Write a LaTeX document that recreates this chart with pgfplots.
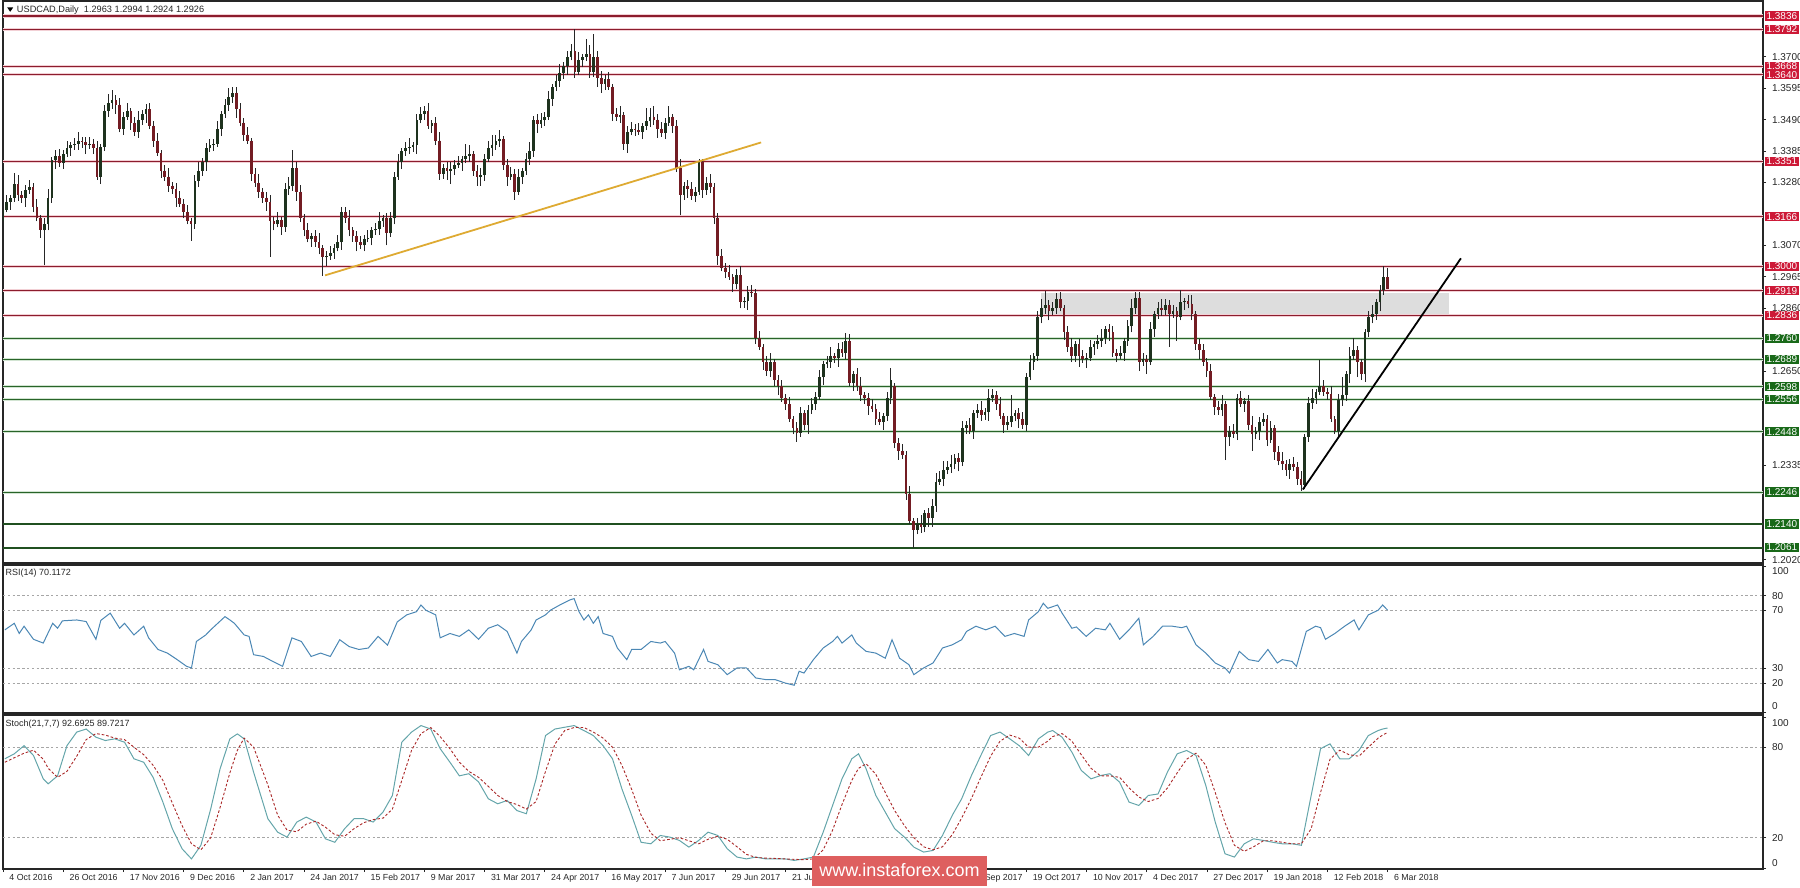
\documentclass[border=0pt]{standalone}
\usepackage{pgfplots}
\usepackage{pgfplotstable}
\pgfplotsset{compat=1.18}
\usepackage{fontspec}
\setmainfont{Liberation Sans}
\newcommand\fs[1]{\fontsize{#1}{#1}\selectfont}
\definecolor{lvlred}{RGB}{140,28,45}
\definecolor{lvlpink}{RGB}{242,208,213}
\definecolor{boxred}{RGB}{205,25,55}
\definecolor{lvlgreen}{RGB}{40,100,40}
\definecolor{lvlgreenhalo}{RGB}{210,228,210}
\definecolor{boxgreen}{RGB}{25,105,25}
\definecolor{bullc}{RGB}{30,50,30}
\definecolor{bearc}{RGB}{115,28,35}
\definecolor{gold}{RGB}{222,170,50}
\definecolor{rectgray}{RGB}{221,221,221}
\definecolor{rsiblue}{RGB}{75,135,180}
\definecolor{stochmain}{RGB}{100,165,170}
\definecolor{stochsig}{RGB}{170,40,40}
\definecolor{wm}{RGB}{222,95,95}

\pgfplotstableread{
i o h l c
0 1.3150 1.3205 1.3130 1.3190
1 1.3190 1.3240 1.3180 1.3215
2 1.3215 1.3240 1.3190 1.3230
3 1.3230 1.3313 1.3215 1.3275
4 1.3275 1.3305 1.3220 1.3240
5 1.3240 1.3252 1.3212 1.3230
6 1.3230 1.3273 1.3200 1.3255
7 1.3255 1.3287 1.3243 1.3265
8 1.3265 1.3280 1.3180 1.3200
9 1.3200 1.3225 1.3150 1.3160
10 1.3160 1.3170 1.3095 1.3120
11 1.3120 1.3160 1.3003 1.3140
12 1.3140 1.3260 1.3120 1.3230
13 1.3230 1.3367 1.3212 1.3355
14 1.3355 1.3388 1.3325 1.3370
15 1.3370 1.3392 1.3333 1.3345
16 1.3345 1.3390 1.3325 1.3375
17 1.3375 1.3420 1.3365 1.3395
18 1.3395 1.3415 1.3370 1.3405
19 1.3405 1.3430 1.3390 1.3410
20 1.3410 1.3450 1.3390 1.3420
21 1.3420 1.3432 1.3397 1.3415
22 1.3415 1.3433 1.3375 1.3405
23 1.3405 1.3432 1.3393 1.3410
24 1.3410 1.3425 1.3375 1.3395
25 1.3395 1.3420 1.3290 1.3300
26 1.3300 1.3410 1.3275 1.3400
27 1.3400 1.3540 1.3385 1.3520
28 1.3520 1.3575 1.3500 1.3545
29 1.3545 1.3588 1.3527 1.3555
30 1.3555 1.3573 1.3510 1.3540
31 1.3540 1.3562 1.3448 1.3460
32 1.3460 1.3515 1.3440 1.3500
33 1.3500 1.3545 1.3490 1.3520
34 1.3520 1.3530 1.3455 1.3480
35 1.3480 1.3500 1.3435 1.3450
36 1.3450 1.3520 1.3430 1.3490
37 1.3490 1.3522 1.3472 1.3510
38 1.3510 1.3543 1.3480 1.3525
39 1.3525 1.3547 1.3458 1.3470
40 1.3470 1.3485 1.3400 1.3420
41 1.3420 1.3445 1.3370 1.3380
42 1.3380 1.3390 1.3295 1.3320
43 1.3320 1.3340 1.3285 1.3300
44 1.3300 1.3330 1.3250 1.3270
45 1.3270 1.3282 1.3242 1.3260
46 1.3260 1.3278 1.3200 1.3230
47 1.3230 1.3252 1.3198 1.3210
48 1.3210 1.3225 1.3160 1.3180
49 1.3180 1.3205 1.3140 1.3150
50 1.3150 1.3160 1.3085 1.3140
51 1.3140 1.3305 1.3125 1.3285
52 1.3285 1.3350 1.3265 1.3320
53 1.3320 1.3362 1.3302 1.3350
54 1.3350 1.3413 1.3320 1.3395
55 1.3395 1.3427 1.3383 1.3405
56 1.3405 1.3425 1.3385 1.3410
57 1.3410 1.3485 1.3400 1.3460
58 1.3460 1.3520 1.3435 1.3510
59 1.3510 1.3560 1.3495 1.3540
60 1.3540 1.3595 1.3520 1.3565
61 1.3565 1.3598 1.3547 1.3580
62 1.3580 1.3598 1.3495 1.3525
63 1.3525 1.3547 1.3468 1.3480
64 1.3480 1.3495 1.3420 1.3440
65 1.3440 1.3465 1.3410 1.3420
66 1.3420 1.3430 1.3285 1.3310
67 1.3310 1.3330 1.3265 1.3280
68 1.3280 1.3310 1.3230 1.3250
69 1.3250 1.3262 1.3212 1.3230
70 1.3230 1.3248 1.3185 1.3215
71 1.3215 1.3237 1.3033 1.3150
72 1.3150 1.3165 1.3120 1.3140
73 1.3140 1.3180 1.3130 1.3155
74 1.3155 1.3165 1.3105 1.3130
75 1.3130 1.3280 1.3115 1.3260
76 1.3260 1.3300 1.3240 1.3270
77 1.3270 1.3390 1.3252 1.3330
78 1.3330 1.3348 1.3220 1.3250
79 1.3250 1.3272 1.3148 1.3160
80 1.3160 1.3175 1.3100 1.3120
81 1.3120 1.3145 1.3080 1.3090
82 1.3090 1.3110 1.3065 1.3100
83 1.3100 1.3120 1.3065 1.3080
84 1.3080 1.3110 1.3040 1.3060
85 1.3060 1.3072 1.2969 1.3030
86 1.3030 1.3053 1.3000 1.3035
87 1.3035 1.3067 1.3023 1.3045
88 1.3045 1.3075 1.3025 1.3060
89 1.3060 1.3105 1.3050 1.3080
90 1.3080 1.3200 1.3055 1.3180
91 1.3180 1.3200 1.3145 1.3160
92 1.3160 1.3190 1.3100 1.3120
93 1.3120 1.3132 1.3082 1.3100
94 1.3100 1.3118 1.3050 1.3080
95 1.3080 1.3102 1.3058 1.3070
96 1.3070 1.3105 1.3050 1.3090
97 1.3090 1.3120 1.3080 1.3095
98 1.3095 1.3130 1.3070 1.3120
99 1.3120 1.3145 1.3105 1.3125
100 1.3125 1.3180 1.3105 1.3150
101 1.3150 1.3172 1.3132 1.3160
102 1.3160 1.3178 1.3070 1.3110
103 1.3110 1.3182 1.3098 1.3160
104 1.3160 1.3315 1.3140 1.3300
105 1.3300 1.3375 1.3290 1.3350
106 1.3350 1.3395 1.3325 1.3385
107 1.3385 1.3415 1.3370 1.3395
108 1.3395 1.3430 1.3375 1.3400
109 1.3400 1.3417 1.3382 1.3405
110 1.3405 1.3508 1.3375 1.3490
111 1.3490 1.3532 1.3478 1.3510
112 1.3510 1.3535 1.3490 1.3520
113 1.3520 1.3545 1.3460 1.3470
114 1.3470 1.3490 1.3445 1.3480
115 1.3480 1.3500 1.3405 1.3420
116 1.3420 1.3450 1.3290 1.3310
117 1.3310 1.3342 1.3292 1.3330
118 1.3330 1.3348 1.3290 1.3320
119 1.3320 1.3347 1.3275 1.3325
120 1.3325 1.3355 1.3305 1.3340
121 1.3340 1.3370 1.3330 1.3345
122 1.3345 1.3370 1.3320 1.3360
123 1.3360 1.3410 1.3345 1.3370
124 1.3370 1.3405 1.3350 1.3375
125 1.3375 1.3387 1.3302 1.3320
126 1.3320 1.3338 1.3270 1.3300
127 1.3300 1.3327 1.3270 1.3305
128 1.3305 1.3375 1.3285 1.3360
129 1.3360 1.3420 1.3350 1.3395
130 1.3395 1.3440 1.3370 1.3405
131 1.3405 1.3440 1.3390 1.3420
132 1.3420 1.3455 1.3400 1.3425
133 1.3425 1.3437 1.3322 1.3340
134 1.3340 1.3358 1.3270 1.3300
135 1.3300 1.3332 1.3288 1.3310
136 1.3310 1.3325 1.3223 1.3250
137 1.3250 1.3325 1.3240 1.3300
138 1.3300 1.3330 1.3275 1.3320
139 1.3320 1.3380 1.3305 1.3360
140 1.3360 1.3415 1.3340 1.3385
141 1.3385 1.3502 1.3367 1.3490
142 1.3490 1.3508 1.3445 1.3475
143 1.3475 1.3512 1.3463 1.3490
144 1.3490 1.3515 1.3470 1.3500
145 1.3500 1.3585 1.3490 1.3560
146 1.3560 1.3610 1.3535 1.3600
147 1.3600 1.3640 1.3585 1.3620
148 1.3620 1.3675 1.3600 1.3645
149 1.3645 1.3682 1.3627 1.3670
150 1.3670 1.3718 1.3640 1.3700
151 1.3700 1.3742 1.3688 1.3720
152 1.3720 1.3793 1.3630 1.3650
153 1.3650 1.3715 1.3640 1.3690
154 1.3690 1.3710 1.3665 1.3700
155 1.3700 1.3760 1.3685 1.3710
156 1.3710 1.3740 1.3630 1.3650
157 1.3650 1.3775 1.3632 1.3700
158 1.3700 1.3718 1.3600 1.3630
159 1.3630 1.3652 1.3580 1.3610
160 1.3610 1.3640 1.3590 1.3625
161 1.3625 1.3650 1.3590 1.3600
162 1.3600 1.3610 1.3485 1.3510
163 1.3510 1.3530 1.3485 1.3500
164 1.3500 1.3535 1.3480 1.3505
165 1.3505 1.3517 1.3390 1.3410
166 1.3410 1.3468 1.3380 1.3450
167 1.3450 1.3482 1.3438 1.3460
168 1.3460 1.3475 1.3435 1.3455
169 1.3455 1.3480 1.3440 1.3450
170 1.3450 1.3480 1.3425 1.3470
171 1.3470 1.3530 1.3455 1.3485
172 1.3485 1.3530 1.3465 1.3500
173 1.3500 1.3535 1.3472 1.3490
174 1.3490 1.3508 1.3430 1.3460
175 1.3460 1.3482 1.3433 1.3445
176 1.3445 1.3495 1.3425 1.3480
177 1.3480 1.3535 1.3470 1.3500
178 1.3500 1.3510 1.3445 1.3470
179 1.3470 1.3490 1.3315 1.3330
180 1.3330 1.3360 1.3170 1.3240
181 1.3240 1.3282 1.3222 1.3270
182 1.3270 1.3288 1.3230 1.3260
183 1.3260 1.3282 1.3223 1.3235
184 1.3235 1.3265 1.3215 1.3250
185 1.3250 1.3360 1.3240 1.3350
186 1.3350 1.3360 1.3230 1.3255
187 1.3255 1.3300 1.3240 1.3280
188 1.3280 1.3310 1.3245 1.3265
189 1.3265 1.3277 1.3142 1.3160
190 1.3160 1.3178 1.3005 1.3035
191 1.3035 1.3057 1.2983 1.2995
192 1.2995 1.3010 1.2960 1.2980
193 1.2980 1.3005 1.2955 1.2965
194 1.2965 1.2975 1.2915 1.2940
195 1.2940 1.2990 1.2925 1.2970
196 1.2970 1.3000 1.2860 1.2880
197 1.2880 1.2897 1.2862 1.2885
198 1.2885 1.2933 1.2855 1.2915
199 1.2915 1.2937 1.2898 1.2910
200 1.2910 1.2925 1.2740 1.2760
201 1.2760 1.2785 1.2720 1.2730
202 1.2730 1.2740 1.2655 1.2680
203 1.2680 1.2700 1.2635 1.2650
204 1.2650 1.2710 1.2630 1.2680
205 1.2680 1.2692 1.2602 1.2620
206 1.2620 1.2638 1.2570 1.2600
207 1.2600 1.2622 1.2548 1.2560
208 1.2560 1.2575 1.2520 1.2540
209 1.2540 1.2565 1.2480 1.2490
210 1.2490 1.2500 1.2440 1.2460
211 1.2460 1.2480 1.2415 1.2445
212 1.2445 1.2530 1.2430 1.2510
213 1.2510 1.2522 1.2452 1.2470
214 1.2470 1.2538 1.2440 1.2520
215 1.2520 1.2562 1.2508 1.2540
216 1.2540 1.2580 1.2520 1.2565
217 1.2565 1.2655 1.2555 1.2630
218 1.2630 1.2685 1.2605 1.2675
219 1.2675 1.2700 1.2660 1.2680
220 1.2680 1.2730 1.2660 1.2700
221 1.2700 1.2712 1.2677 1.2695
222 1.2695 1.2743 1.2665 1.2725
223 1.2725 1.2747 1.2698 1.2710
224 1.2710 1.2778 1.2690 1.2750
225 1.2750 1.2775 1.2600 1.2610
226 1.2610 1.2650 1.2585 1.2640
227 1.2640 1.2660 1.2585 1.2600
228 1.2600 1.2630 1.2550 1.2570
229 1.2570 1.2582 1.2542 1.2560
230 1.2560 1.2578 1.2505 1.2535
231 1.2535 1.2557 1.2513 1.2525
232 1.2525 1.2540 1.2470 1.2490
233 1.2490 1.2515 1.2470 1.2480
234 1.2480 1.2510 1.2455 1.2500
235 1.2500 1.2580 1.2485 1.2560
236 1.2560 1.2660 1.2540 1.2620
237 1.2600 1.2612 1.2392 1.2410
238 1.2410 1.2428 1.2355 1.2385
239 1.2385 1.2407 1.2358 1.2370
240 1.2370 1.2385 1.2220 1.2240
241 1.2240 1.2265 1.2140 1.2150
242 1.2150 1.2160 1.2061 1.2120
243 1.2120 1.2160 1.2105 1.2140
244 1.2140 1.2170 1.2110 1.2130
245 1.2130 1.2187 1.2112 1.2175
246 1.2175 1.2193 1.2130 1.2160
247 1.2160 1.2222 1.2130 1.2200
248 1.2200 1.2310 1.2180 1.2280
249 1.2280 1.2315 1.2270 1.2290
250 1.2290 1.2350 1.2265 1.2320
251 1.2320 1.2350 1.2305 1.2330
252 1.2330 1.2370 1.2310 1.2340
253 1.2340 1.2372 1.2322 1.2360
254 1.2360 1.2378 1.2315 1.2345
255 1.2345 1.2482 1.2333 1.2460
256 1.2460 1.2485 1.2440 1.2470
257 1.2470 1.2495 1.2440 1.2450
258 1.2450 1.2520 1.2425 1.2510
259 1.2510 1.2540 1.2495 1.2520
260 1.2520 1.2550 1.2485 1.2505
261 1.2505 1.2527 1.2487 1.2515
262 1.2515 1.2590 1.2485 1.2560
263 1.2560 1.2592 1.2548 1.2570
264 1.2570 1.2585 1.2520 1.2540
265 1.2540 1.2565 1.2490 1.2500
266 1.2500 1.2510 1.2445 1.2470
267 1.2470 1.2500 1.2455 1.2480
268 1.2480 1.2570 1.2462 1.2500
269 1.2500 1.2522 1.2482 1.2510
270 1.2510 1.2528 1.2460 1.2490
271 1.2490 1.2512 1.2458 1.2470
272 1.2470 1.2645 1.2450 1.2630
273 1.2630 1.2705 1.2620 1.2680
274 1.2680 1.2710 1.2655 1.2700
275 1.2700 1.2850 1.2685 1.2830
276 1.2830 1.2890 1.2810 1.2860
277 1.2860 1.2918 1.2842 1.2870
278 1.2870 1.2888 1.2820 1.2850
279 1.2850 1.2882 1.2838 1.2860
280 1.2860 1.2910 1.2840 1.2890
281 1.2890 1.2915 1.2850 1.2860
282 1.2860 1.2870 1.2755 1.2780
283 1.2780 1.2800 1.2715 1.2730
284 1.2730 1.2760 1.2680 1.2700
285 1.2700 1.2752 1.2682 1.2740
286 1.2740 1.2758 1.2665 1.2700
287 1.2700 1.2722 1.2678 1.2690
288 1.2690 1.2710 1.2660 1.2695
289 1.2695 1.2755 1.2685 1.2730
290 1.2730 1.2750 1.2705 1.2740
291 1.2740 1.2770 1.2725 1.2750
292 1.2750 1.2790 1.2730 1.2760
293 1.2760 1.2800 1.2742 1.2790
294 1.2790 1.2808 1.2750 1.2780
295 1.2780 1.2802 1.2698 1.2710
296 1.2710 1.2725 1.2680 1.2700
297 1.2700 1.2735 1.2690 1.2710
298 1.2710 1.2760 1.2685 1.2750
299 1.2750 1.2820 1.2735 1.2800
300 1.2800 1.2890 1.2780 1.2860
301 1.2860 1.2915 1.2842 1.2895
302 1.2895 1.2913 1.2650 1.2680
303 1.2680 1.2712 1.2668 1.2690
304 1.2690 1.2705 1.2640 1.2680
305 1.2680 1.2815 1.2670 1.2790
306 1.2790 1.2850 1.2765 1.2840
307 1.2840 1.2880 1.2825 1.2860
308 1.2860 1.2890 1.2835 1.2855
309 1.2855 1.2890 1.2837 1.2870
310 1.2870 1.2888 1.2730 1.2840
311 1.2840 1.2872 1.2828 1.2850
312 1.2850 1.2865 1.2750 1.2830
313 1.2830 1.2920 1.2820 1.2880
314 1.2880 1.2895 1.2855 1.2885
315 1.2885 1.2905 1.2860 1.2875
316 1.2875 1.2905 1.2820 1.2840
317 1.2840 1.2852 1.2722 1.2740
318 1.2740 1.2758 1.2690 1.2720
319 1.2720 1.2742 1.2668 1.2680
320 1.2680 1.2695 1.2630 1.2650
321 1.2650 1.2675 1.2555 1.2565
322 1.2565 1.2575 1.2505 1.2530
323 1.2530 1.2550 1.2505 1.2520
324 1.2520 1.2570 1.2500 1.2540
325 1.2540 1.2552 1.2353 1.2430
326 1.2430 1.2468 1.2400 1.2450
327 1.2450 1.2472 1.2428 1.2440
328 1.2440 1.2575 1.2420 1.2560
329 1.2560 1.2585 1.2530 1.2540
330 1.2540 1.2560 1.2515 1.2550
331 1.2550 1.2570 1.2455 1.2470
332 1.2470 1.2500 1.2385 1.2440
333 1.2440 1.2462 1.2422 1.2450
334 1.2450 1.2498 1.2420 1.2480
335 1.2480 1.2510 1.2468 1.2490
336 1.2490 1.2505 1.2400 1.2420
337 1.2420 1.2485 1.2410 1.2460
338 1.2460 1.2470 1.2355 1.2380
339 1.2380 1.2400 1.2335 1.2350
340 1.2350 1.2380 1.2320 1.2340
341 1.2340 1.2352 1.2300 1.2320
342 1.2320 1.2358 1.2290 1.2340
343 1.2340 1.2362 1.2318 1.2330
344 1.2330 1.2345 1.2270 1.2290
345 1.2290 1.2315 1.2250 1.2270
346 1.2270 1.2440 1.2255 1.2430
347 1.2430 1.2565 1.2415 1.2545
348 1.2545 1.2590 1.2525 1.2560
349 1.2560 1.2592 1.2542 1.2580
350 1.2580 1.2688 1.2570 1.2600
351 1.2600 1.2622 1.2568 1.2580
352 1.2580 1.2595 1.2555 1.2575
353 1.2575 1.2600 1.2480 1.2490
354 1.2490 1.2500 1.2440 1.2450
355 1.2450 1.2575 1.2435 1.2555
356 1.2555 1.2630 1.2535 1.2570
357 1.2570 1.2652 1.2552 1.2640
358 1.2640 1.2730 1.2610 1.2700
359 1.2700 1.2760 1.2688 1.2720
360 1.2720 1.2735 1.2630 1.2680
361 1.2680 1.2690 1.2620 1.2640
362 1.2640 1.2790 1.2615 1.2780
363 1.2780 1.2850 1.2765 1.2830
364 1.2830 1.2870 1.2810 1.2840
365 1.2840 1.2892 1.2822 1.2880
366 1.2880 1.2938 1.2850 1.2920
367 1.2920 1.3000 1.2905 1.2963
368 1.2963 1.2994 1.2924 1.2926
}\candles

\pgfplotstableread{
x y
0.5 56.5
3 61
4.3 54
5.6 59
8.1 50
10.7 47.4
13.2 61
14.5 57.6
15.8 62.7
19.6 63.3
22.1 62.2
24.7 50
26 63
28.5 68
31 57.6
32.3 61
34.8 53
37.4 59
38.7 51
41.2 43
43.7 40.5
46.3 36
48.8 31.4
50.1 30.3
51.4 48.5
53.9 53
55.2 56.5
59 65.6
60.3 63.3
61.5 61
64.1 53
65.4 52
66.6 39.4
69.2 38.2
71.7 34.8
74.3 31.4
76.8 51
79.3 48.5
81.9 38.2
84.4 40.5
87 38.2
89.5 49.7
92 45
94.6 43
97.1 44
99.7 52
102.2 46
104.8 62
107.3 66.8
109.9 69
111.1 73.6
112.4 70
115 66.8
116.2 51
118.8 54
121.3 52
123.8 56.5
126.4 50
129 57.6
131.5 60
134 55.4
136.6 40.5
137.8 48.5
140.4 56.5
141.7 63.3
144.2 66.8
145.5 70
148 73.6
150.6 77
151.8 78
153.1 69
154.4 63.3
155.6 66.8
156.9 61
158.2 65.6
159.5 54
162 52
163.3 44
165.8 36
167.1 43
169.6 43
172.2 48.5
174.7 47.4
176 48.5
178.5 40.5
179.8 29
182.3 31.4
183.6 29
186.2 43
187.4 34.8
190 32.5
192.5 25.7
195.1 30.3
197.6 30.3
200.1 23.4
202.7 22.3
205.2 22.3
207.8 20
210.3 18.4
211.6 28
212.9 26.8
215.4 36
218 44
220.5 48.5
221.8 52
223 47.4
225.6 53
226.8 47.4
229.4 41.7
232 40.5
234.5 37
236.3 49.7
238.3 37
240.8 32.5
242.1 25.7
244.7 30.3
247.2 33.7
249.7 44
252.3 46.2
254.8 49.7
256.1 55.4
258.6 59
261.2 56.5
263.7 59
266.3 52
268.8 54
271.4 52
272.6 63.3
275.2 69
276.5 74.8
277.7 71.3
280.3 73.6
281.5 68
284.1 57.6
285.3 58.5
287.9 52
290.4 57.6
293 56.5
294.2 61
296.8 50
299.3 56.5
301.9 64.5
303.1 46.2
305.7 52
308.2 59
310.8 59
313.3 58
314.6 59
317.1 46.2
319.7 40.5
322.2 33.7
324.8 30.3
326 26.8
328.6 41.7
331.1 36
333.7 34.8
336.2 43
338.7 33.7
340 36
342.6 34.8
343.8 31.4
346.4 55.4
348.9 59
350.2 58
351.5 50
354 54
356.6 59
359.1 63.3
360.4 56.5
362.9 66.8
365.5 70
366.7 73.6
368 70.1
}\rsidata

\pgfplotstableread{
x k d
0.5 72.3 70
3 75.6 73
5.6 81 76
8.1 74.5 78
10.7 59 72
12 55.7 66
14.5 61 60
17 81 64
19.6 90 74
22.1 92 85
24.7 86.6 89
27.2 84.4 88
29.7 85.5 86
32.3 83.3 85
34.8 72.3 80
37.4 70 75
39.9 60 68
42.5 43.6 58
45 26 43
47.6 12.7 28
50.1 6 16
52.6 15 12
55.2 39 20
57.7 65.7 40
60.3 85.5 63
62.3 88.8 78
64.1 85.5 86
66.6 63.5 80
70.4 32.6 55
73 23.7 35
75.5 20.4 25
78.1 30.4 24
80.6 33.7 29
83.2 30.4 31
85.7 19.3 27
88.2 17 22
90.8 26 21
93.3 32.6 26
95.9 32.6 30
98.4 30.4 32
101 37 33
103.5 48 39
106 83.3 58
108.6 90 78
111.1 94.3 89
113.7 92 93
116.2 79 87
118.8 70 79
121.3 61 70
123.8 62.4 64
126.4 57 60
129 45.8 54
131.5 42.5 48
134 44.7 44
136.6 38 42
139.1 35.9 39
141.7 59 44
144.2 87.7 64
146.7 92 82
149.3 93.2 91
151.8 94.3 93
154.4 91 93
156.9 87.7 90
159.5 81 86
162 72.3 80
164.5 52.4 68
167.1 34.8 52
169.6 17 35
172.2 16 23
174.7 21.5 18
177.3 20.4 19
179.8 18.2 20
182.3 13.8 18
184.9 18.2 16
187.4 23.7 19
190 21.5 21
192.5 12.7 19
195.1 7.2 14
197.6 6 9
200.1 7.2 7
202.7 6 6.5
205.2 6 6.3
207.8 6 6
210.3 5 5.7
212.9 6 5.5
215.4 7.2 6
218 23.7 12
220.5 41.4 25
223 59 42
225.6 72.3 58
227.4 75.6 66
229.4 65.7 69
232 48 62
234.5 37 50
237 26 38
239.6 20.4 28
242.1 13.8 20
244.7 10.5 14
247.2 11.6 12
249.7 21.5 14
252.3 34.8 22
254.8 45.8 33
257.4 61.2 46
259.9 74.5 60
262.5 87.7 74
265 90 84
267.6 85.5 88
270.1 81 86
272.6 74.5 80
275.2 85.5 80
277.7 90 84
279 91 87
281.5 86.6 89
284.1 76.7 84
286.6 64.6 75
289.2 59 66
291.7 61.2 61
294.2 62.4 61
296.8 56.8 60
299.3 43.6 53
301.9 41.4 47
304.4 48 44
307 49 46
309.5 63.5 53
312.1 75.6 63
314.6 77.8 72
317.1 74.5 76
319.7 54.6 68
322.2 30.4 50
324.8 9.4 30
327.3 7.2 15
329.9 16 11
332.4 19.3 14
335 18.2 18
337.5 17 18
340 16 17
342.6 16 16
345.1 15 16
347.7 48 26
350.2 79 50
352.7 82.2 72
355.3 72.3 78
357.8 72.3 75
360.4 77.8 74
362.9 87.7 80
365.5 91 86
366.7 92 88
368 92.7 89.7
}\stochdata

\pgfplotsset{
  mtpanel/.style={scale only axis, width=880pt, xmin=0, xmax=467.8,
    axis line style={line width=0.6pt, black!85},
    xtick=\empty, ytick pos=right, yticklabel pos=right, tick align=outside,
    major tick length=1.6pt, tick style={black!85, line width=0.4pt},
    yticklabel style={font=\fs{5}, xshift=-0.6pt, text=black!85,
      /pgf/number format/assume math mode=true},
  },
}
\tikzset{
  redhalo/.style={lvlpink, line width=1.5pt},
  redlvl/.style={lvlred, line width=0.5pt},
  greenhalo/.style={lvlgreenhalo, line width=1.4pt},
  greenlvl/.style={lvlgreen, line width=0.55pt},
  lvbox/.style={anchor=west, xshift=0.6pt, minimum width=17.2pt, minimum height=4.7pt,
    inner sep=0pt, text=white, font=\fs{5}},
  dashlvl/.style={black!35, line width=0.35pt, dash pattern=on 1.2pt off 1.2pt},
}
\newcommand\rb[2]{\raisebox{#1}[\height][\depth]{#2}}

\begin{document}
\begin{tikzpicture}
\path[use as bounding box] (0,0) rectangle (900pt,-444pt);

% ---------- main price panel ----------
\begin{axis}[mtpanel, at={(1.5pt,-0.5pt)}, anchor=north west, height=281pt,
  ymin=1.20093, ymax=1.38864,
  ytick={1.2020,1.2335,1.2650,1.2860,1.2965,1.3070,1.3280,1.3385,1.3490,1.3595,1.3700},
  yticklabel style={/pgf/number format/.cd, fixed, fixed zerofill, precision=4},
]
\addplot[fill=rectgray, draw=none] coordinates {(275.9,1.2836) (384.3,1.2836) (384.3,1.2910) (275.9,1.2910)} -- cycle;
\pgfplotsinvokeforeach{1.3792,1.3668,1.3640,1.3351,1.3166,1.3000,1.2919,1.2836}{
  \addplot[redhalo] coordinates {(0,#1) (467.8,#1)};
  \addplot[redlvl] coordinates {(0,#1) (467.8,#1)};
}
\addplot[redhalo, line width=2.2pt] coordinates {(0,1.3836) (467.8,1.3836)};
\addplot[lvlred, line width=1.1pt] coordinates {(0,1.3836) (467.8,1.3836)};
\pgfplotsinvokeforeach{1.2760,1.2689,1.2598,1.2556,1.2448,1.2246}{
  \addplot[greenhalo] coordinates {(0,#1) (467.8,#1)};
  \addplot[greenlvl] coordinates {(0,#1) (467.8,#1)};
}
\addplot[lvlgreen!80!black, line width=1.0pt] coordinates {(0,1.2140) (467.8,1.2140)};
\addplot[lvlgreen!80!black, line width=1.0pt] coordinates {(0,1.2061) (467.8,1.2061)};
% candles: wicks, then bull bodies (up moves only), then bear bodies (down moves only)
\addplot[black!85, line width=0.45pt, line cap=butt, mark=none, quiver={u=0, v=\thisrow{h}-\thisrow{l}}] table[x=i, y=l] {\candles};
\addplot[bullc, line width=1.35pt, line cap=butt, mark=none, quiver={u=0, v={max(\thisrow{c}-\thisrow{o},0)}}] table[x=i, y=o] {\candles};
\addplot[bearc, line width=1.35pt, line cap=butt, mark=none, quiver={u=0, v={min(\thisrow{c}-\thisrow{o},0)}}] table[x=i, y=o] {\candles};
% trend lines
\addplot[gold, line width=0.9pt] coordinates {(85.6,1.2970) (201.5,1.3414)};
\addplot[black, line width=0.9pt] coordinates {(345.5,1.2255) (387.5,1.3027)};
\end{axis}

% overlay with level boxes
\begin{axis}[at={(1.5pt,-0.5pt)}, anchor=north west, scale only axis, width=880pt, height=281pt,
  xmin=0, xmax=467.8, ymin=1.20093, ymax=1.38864, hide axis, clip=false]
\pgfplotsinvokeforeach{1.3836,1.3792,1.3668,1.3640,1.3351,1.3166,1.3000,1.2919,1.2836}{
  \node[lvbox, fill=boxred] at (axis cs:467.8,#1) {#1};
}
\pgfplotsinvokeforeach{1.2760,1.2689,1.2598,1.2556,1.2448,1.2246,1.2140,1.2061}{
  \node[lvbox, fill=boxgreen] at (axis cs:467.8,#1) {#1};
}
\end{axis}

% ---------- RSI panel ----------
\begin{axis}[mtpanel, at={(1.5pt,-282.5pt)}, anchor=north west, height=74pt,
  ymin=-0.7, ymax=101.1, ytick={0,20,30,70,80,100},
  yticklabel={\ifcase\ticknum \rb{3pt}{0}\or 20\or 30\or 70\or 80\or \rb{-2.4pt}{100}\fi}]
\pgfplotsinvokeforeach{20,30,70,80}{
  \addplot[dashlvl] coordinates {(0,#1) (467.8,#1)};
}
\addplot[rsiblue, line width=0.5pt] table[x=x, y=y] {\rsidata};
\end{axis}

% ---------- Stochastic panel ----------
\begin{axis}[mtpanel, at={(1.5pt,-357.5pt)}, anchor=north west, height=77pt,
  ymin=-0.7, ymax=101.3, ytick={0,20,80,100},
  yticklabel={\ifcase\ticknum \rb{2.6pt}{0}\or 20\or 80\or \rb{-2.8pt}{100}\fi},
  xtick={0,16,...,368}, xtick pos=bottom,
  xticklabels={4 Oct 2016,26 Oct 2016,17 Nov 2016,9 Dec 2016,2 Jan 2017,24 Jan 2017,15 Feb 2017,9 Mar 2017,31 Mar 2017,24 Apr 2017,16 May 2017,7 Jun 2017,29 Jun 2017,21 Jul 2017,14 Aug 2017,5 Sep 2017,27 Sep 2017,19 Oct 2017,10 Nov 2017,4 Dec 2017,27 Dec 2017,19 Jan 2018,12 Feb 2018,6 Mar 2018},
  xticklabel style={anchor=north west, font=\fs{4.4}, xshift=-0.3pt, yshift=2.6pt, text=black!85},
]
\pgfplotsinvokeforeach{20,80}{
  \addplot[dashlvl] coordinates {(0,#1) (467.8,#1)};
}
\addplot[stochmain, line width=0.5pt] table[x=x, y=k] {\stochdata};
\addplot[stochsig, line width=0.45pt, dash pattern=on 1.3pt off 1pt] table[x=x, y=d] {\stochdata};
\end{axis}

% ---------- texts ----------
\fill[black] (3.6pt,-3.7pt) -- (6.6pt,-3.7pt) -- (5.1pt,-5.9pt) -- cycle;
\node[anchor=west, font=\fs{4.6}, inner sep=0pt, text=black!85] at (8.3pt,-5pt) {USDCAD,Daily\ \ 1.2963 1.2994 1.2924 1.2926};
\node[anchor=west, font=\fs{4.5}, inner sep=0pt, text=black!85] at (2.6pt,-286.6pt) {RSI(14) 70.1172};
\node[anchor=west, font=\fs{4.5}, inner sep=0pt, text=black!85] at (2.6pt,-362pt) {Stoch(21,7,7) 92.6925 89.7217};
\node[fill=wm, text=white, font=\fs{9}, minimum width=87.5pt, minimum height=15pt, inner sep=0pt] at (449.75pt,-435.25pt) {www.instaforex.com};
\end{tikzpicture}
\end{document}
